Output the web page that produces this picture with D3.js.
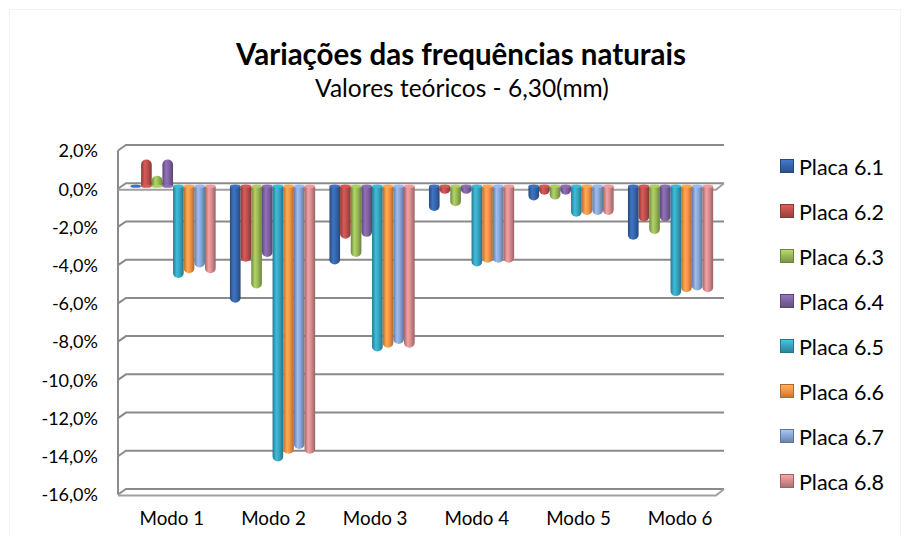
<!DOCTYPE html>
<html>
<head>
<meta charset="utf-8">
<script src="https://cdn.jsdelivr.net/npm/d3@7"></script>
<style>
  html, body { margin: 0; padding: 0; background: #fff; }
  svg { display: block; }
  text { font-family: Lato, "Open Sans", sans-serif; fill: #000; }
</style>
</head>
<body>
<svg id="chart" width="909" height="536"></svg>
<script>
// Modes (categories), plates (series) and the % variation of each plate per mode
const modes = ["Modo 1", "Modo 2", "Modo 3", "Modo 4", "Modo 5", "Modo 6"];
const plates = ["Placa 6.1", "Placa 6.2", "Placa 6.3", "Placa 6.4", "Placa 6.5", "Placa 6.6", "Placa 6.7", "Placa 6.8"];
const placa61 = [0.03, -6.1, -4.1, -1.3, -0.75, -2.8];
const placa62 = [1.4, -3.95, -2.75, -0.4, -0.45, -1.85];
const placa63 = [0.55, -5.35, -3.7, -1.05, -0.7, -2.5];
const placa64 = [1.4, -3.7, -2.65, -0.4, -0.45, -1.85];
const placa65 = [-4.8, -14.4, -8.65, -4.2, -1.6, -5.75];
const placa66 = [-4.55, -14.0, -8.45, -4.0, -1.5, -5.55];
const placa67 = [-4.25, -13.75, -8.25, -4.0, -1.5, -5.45];
const placa68 = [-4.55, -14.0, -8.45, -4.0, -1.5, -5.55];
const yTicks = [2, 0, -2, -4, -6, -8, -10, -12, -14, -16];
const colors = ["#3767AE", "#C0504D", "#9BBB59", "#8064A2", "#37A7C2", "#F79646", "#8AA8D8", "#D98E90"];

const seriesValues = [placa61, placa62, placa63, placa64, placa65, placa66, placa67, placa68];

const svg = d3.select("#chart");
const defs = svg.append("defs");

// Cylinder shading: dark edges, light highlight left of centre
colors.forEach((c, i) => {
  const g = defs.append("linearGradient").attr("id", "cyl" + i)
    .attr("x1", "0%").attr("x2", "100%").attr("y1", "0%").attr("y2", "0%");
  const base = d3.color(c);
  g.append("stop").attr("offset", "0%").attr("stop-color", base.darker(0.9));
  g.append("stop").attr("offset", "35%").attr("stop-color", base.brighter(0.35));
  g.append("stop").attr("offset", "60%").attr("stop-color", base);
  g.append("stop").attr("offset", "100%").attr("stop-color", base.darker(1.0));
  const lg = defs.append("linearGradient").attr("id", "leg" + i)
    .attr("x1", "0%").attr("x2", "0%").attr("y1", "0%").attr("y2", "100%");
  lg.append("stop").attr("offset", "0%").attr("stop-color", base.brighter(0.5));
  lg.append("stop").attr("offset", "45%").attr("stop-color", base);
  lg.append("stop").attr("offset", "100%").attr("stop-color", base.darker(0.7));
});

// Faint chart-area frame
svg.append("rect").attr("x", 9.5).attr("y", 9.5).attr("width", 891).attr("height", 540)
  .attr("fill", "none").attr("stroke", "#f3f3f3");

// Scales: front plane (labels), back wall (gridlines), bars in between
const yFront = d3.scaleLinear().domain([-16, 2]).range([494.5, 150.5]);
const depthX = 8, depthY = 5.5;
const yBack = v => yFront(v) - depthY;
const yBar = v => yFront(v) - 2.5;
const xLeft = 118, xRight = 716;

const x0 = d3.scaleBand().domain(modes).range([123.3, 720.3]).padding(0);
const x1 = d3.scaleBand().domain(plates).range([0, x0.bandwidth()]).paddingOuter(0.67).paddingInner(0);
const xLabel = d3.scaleBand().domain(modes).range([121, 731]).padding(0);

// Walls and gridlines
const grid = svg.append("g").attr("fill", "none").attr("stroke", "#8a8a8a").attr("stroke-width", 2);
yTicks.forEach(v => {
  grid.append("path").attr("d",
    `M${xLeft},${yFront(v)} L${xLeft + depthX},${yBack(v)} L${xRight + depthX},${yBack(v)}`);
});
grid.append("line").attr("x1", xLeft).attr("x2", xLeft)
  .attr("y1", yFront(2)).attr("y2", yFront(-16));
// floor and zero plane front edges
[0, -16].forEach(v => {
  grid.append("path").attr("stroke", "#a0a0a0").attr("d",
    `M${xLeft},${yFront(v) + 1} L${xRight},${yFront(v) + 1} L${xRight + depthX},${yBack(v)}`);
});

// Y axis labels
const yAxis = d3.axisLeft(yFront).tickValues(yTicks)
  .tickFormat(d => d3.format(".1f")(d).replace(".", ",").replace("−", "-") + "%")
  .tickSize(0).tickPadding(0);
const ya = svg.append("g").attr("transform", "translate(98,0)").call(yAxis);
ya.select(".domain").remove();
ya.selectAll("text").style("font-size", "18px").style("font-family", "Lato, sans-serif").attr("dy", "0.35em");

// X axis labels
const xAxis = d3.axisBottom(xLabel).tickSize(0).tickPadding(0);
const xa = svg.append("g").attr("transform", "translate(0,518)").call(xAxis);
xa.select(".domain").remove();
xa.selectAll("text").style("font-size", "18.8px").style("font-family", "Lato, sans-serif").attr("dy", "0.35em");

// Cylinder bars
function cylPath(x, w, v) {
  const y0 = yBar(0), y1 = yBar(v);
  const len = Math.abs(y1 - y0);
  const ry = Math.min(5, len / 2 + 0.8);
  if (v < 0) {
    return `M${x},${y0} L${x},${y1 - ry} A${w / 2},${ry} 0 0 0 ${x + w},${y1 - ry} L${x + w},${y0} Z`;
  }
  return `M${x},${y0} L${x},${y1 + ry} A${w / 2},${ry} 0 0 1 ${x + w},${y1 + ry} L${x + w},${y0} Z`;
}
const bars = svg.append("g");
modes.forEach((m, mi) => {
  plates.forEach((p, si) => {
    const v = seriesValues[si][mi];
    const x = x0(m) + x1(p);
    const w = x1.bandwidth();
    bars.append("path").attr("d", cylPath(x, w, v)).attr("fill", `url(#cyl${si})`);
    // flat top cap at the zero plane
    bars.append("ellipse").attr("cx", x + w / 2).attr("cy", yBar(0)).attr("rx", w / 2).attr("ry", 1.6)
      .attr("fill", d3.color(colors[si]).brighter(0.3));
  });
});

// Title
svg.append("text").attr("x", 461).attr("y", 65).attr("text-anchor", "middle")
  .style("font-size", "29.5px").style("font-weight", "bold").text("Variações das frequências naturais");
svg.append("text").attr("x", 462).attr("y", 97).attr("text-anchor", "middle")
  .style("font-size", "24.5px").text("Valores teóricos - 6,30(mm)");

// Legend
const legend = svg.append("g");
plates.forEach((p, i) => {
  const cy = 166 + i * 45;
  legend.append("rect").attr("x", 780.5).attr("y", cy - 6.5).attr("width", 13).attr("height", 13)
    .attr("fill", `url(#leg${i})`).attr("stroke", d3.color(colors[i]).darker(1)).attr("stroke-width", 1);
  legend.append("text").attr("x", 799).attr("y", cy + 1).attr("dy", "0.35em")
    .style("font-size", "21.5px").text(p);
});
</script>
</body>
</html>
